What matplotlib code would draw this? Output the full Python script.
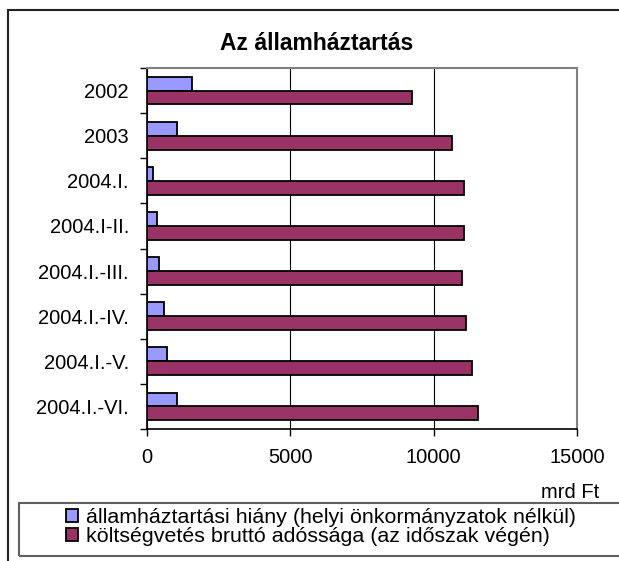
import matplotlib
matplotlib.use("Agg")
import matplotlib.pyplot as plt
from matplotlib.patches import Rectangle
import numpy as np

plt.rcParams["font.family"] = ["Liberation Sans", "DejaVu Sans"]
plt.rcParams["font.size"] = 14.5

# adatok (mrd Ft)
categories = ["2002", "2003", "2004.I.", "2004.I-II.", "2004.I.-III.",
              "2004.I.-IV.", "2004.I.-V.", "2004.I.-VI."]
hiany = [1560, 1040, 220, 350, 420, 580, 710, 1050]
adossag = [9250, 10630, 11060, 11060, 10990, 11130, 11330, 11550]
series_names = ["államháztartási hiány (helyi önkormányzatok nélkül)",
                "költségvetés bruttó adóssága (az időszak végén)"]
xticks = [0, 5000, 10000, 15000]

W, H = 619, 561
fig = plt.figure(figsize=(W / 100, H / 100), dpi=100)

# diagram keret
fig.add_artist(Rectangle((8 / W, -0.1), 1.2, 1 - 10 / H + 0.1,
                         transform=fig.transFigure, fill=False,
                         ec="#222222", lw=1.5))

ax = fig.add_axes([147 / W, 1 - 429 / H, (577 - 147) / W, (429 - 68) / H])

y = np.arange(len(categories))
h = 0.307
ax.barh(y - h / 2, hiany, height=h, color="#9999FF", edgecolor="black",
        linewidth=1.3, label=series_names[0], zorder=3)
ax.barh(y + h / 2, adossag, height=h, color="#993366", edgecolor="black",
        linewidth=1.3, label=series_names[1], zorder=3)

ax.set_xlim(0, 15000)
ax.set_ylim(len(categories) - 0.5, -0.5)
ax.set_xticks(xticks)
ax.set_xticklabels([str(v) for v in xticks])
ax.set_yticks(np.arange(len(categories) + 1) - 0.5, minor=False)
ax.set_yticklabels([])
ax.set_yticks(y, minor=True)
ax.set_yticklabels(categories, minor=True)
ax.tick_params(axis="y", which="major", length=5, width=1, direction="out")
ax.tick_params(axis="y", which="minor", length=0, pad=13)
ax.tick_params(axis="x", length=5, width=1, direction="out", pad=9)
ax.grid(axis="x", color="black", linewidth=0.8, zorder=0)

for s in ["left", "bottom"]:
    ax.spines[s].set_color("black")
    ax.spines[s].set_linewidth(1.2)
for s in ["top", "right"]:
    ax.spines[s].set_color("#808080")
    ax.spines[s].set_linewidth(1.5)

fig.text(317 / W, 1 - 44 / H, "Az államháztartás", ha="center", va="center",
         fontsize=16.5, fontweight="bold")
fig.text(599 / W, 1 - 492 / H, "mrd Ft", ha="right", va="center")

# jelmagyarázat
fig.add_artist(Rectangle((19 / W, 1 - 556 / H), 1.2, (556 - 503) / H,
                         transform=fig.transFigure, fill=False,
                         ec="#606060", lw=1.5))
fig.legend(loc="upper left", bbox_to_anchor=(66 / W, 1 - 508 / H),
           frameon=False, borderpad=0, borderaxespad=0, fontsize=15.4,
           handlelength=0.55, handleheight=0.55, handletextpad=0.4,
           labelspacing=0.0)

fig.savefig("out.png", dpi=100)
